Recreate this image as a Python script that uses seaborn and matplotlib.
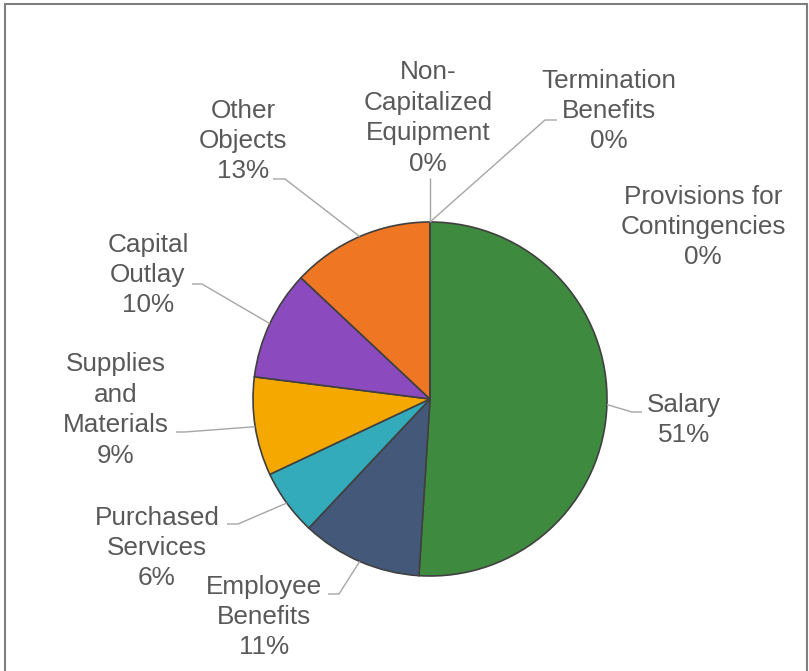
import numpy as np
import matplotlib
matplotlib.use("Agg")
import matplotlib.pyplot as plt
from matplotlib.patches import Rectangle
import seaborn as sns

# Expenditure shares by object (percent)
categories = ["Salary", "Employee\nBenefits", "Purchased\nServices",
              "Supplies\nand\nMaterials", "Capital\nOutlay", "Other\nObjects",
              "Non-\nCapitalized\nEquipment", "Termination\nBenefits",
              "Provisions for\nContingencies"]
shares = [51, 11, 6, 9, 10, 13, 0, 0, 0]
slice_colors = ["#3e8a3e", "#44597a", "#33abbb", "#f5a800", "#8b4bbf",
                "#ef7622", "#a5a5a5", "#5b9bd5", "#70ad47"]

sns.set_theme(style="white")
plt.rcParams["font.family"] = ["Liberation Sans", "DejaVu Sans"]

W, H = 809, 671
fig = plt.figure(figsize=(W / 100, H / 100), dpi=100)
ax = fig.add_axes([0, 0, 1, 1])


def P(x, y):
    """Pixel position (origin top-left) to data coordinates."""
    return x, H - y


cx, cy = P(430, 399)
R = 177
ax.pie(shares, colors=slice_colors, startangle=90, counterclock=False,
       center=(cx, cy), radius=R,
       wedgeprops=dict(edgecolor="#404040", linewidth=1.2))
ax.set_xlim(0, W)
ax.set_ylim(0, H)
ax.set_aspect("equal")
ax.axis("off")

# label layout: text centre and elbow of the leader line (pixels)
label_pos = [(684, 420), (264, 617), (157, 548), (116, 410), (148, 275),
             (243, 141), (428, 118), (609, 111), (703, 227)]
elbows = [[(632, 412), (642, 412)],
          [(339, 594), (328, 594)],
          [(238, 524), (227, 524)],
          [(185, 432), (176, 432)],
          [(202, 284), (192, 284)],
          [(285, 179), (273, 179)],
          [(430, 178)],
          [(545, 120), (557, 120)],
          None]

total = sum(shares)
cum = np.cumsum([0] + shares)
for i, (name, v) in enumerate(zip(categories, shares)):
    mid = (cum[i] + v / 2) / total * 360.0
    theta = np.deg2rad(90 - mid)
    sx, sy = cx + R * np.cos(theta), cy + R * np.sin(theta)
    if elbows[i] is not None:
        pts = [(sx, sy)] + [P(*p) for p in elbows[i]]
        xs, ys = zip(*pts)
        ax.plot(xs, ys, color="#a6a6a6", lw=1.0, solid_capstyle="butt", zorder=1)
    tx, ty = P(*label_pos[i])
    ax.text(tx, ty, f"{name}\n{v / total * 100:.0f}%", ha="center", va="center",
            fontsize=18.8, color="#595959", linespacing=1.34)

# chart area border
fig.patches.append(Rectangle((4.5 / W, -0.05), (807 - 4.5) / W, 1.05 - 4 / H,
                             transform=fig.transFigure, fill=False,
                             edgecolor="#7f7f7f", linewidth=1.5))

fig.savefig("out.png", dpi=100)
